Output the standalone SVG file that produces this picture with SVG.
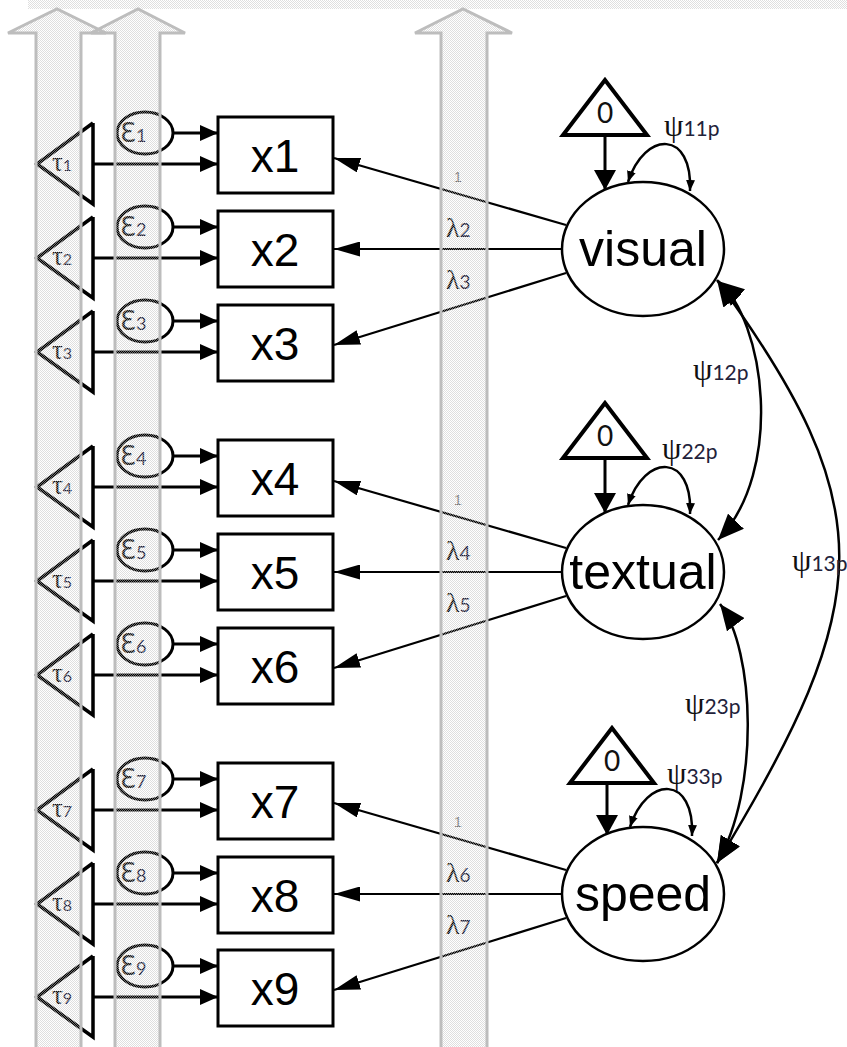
<svg xmlns="http://www.w3.org/2000/svg" width="847" height="1047" viewBox="0 0 847 1047">
  <style>
    .box { fill: #fff; stroke: #000; stroke-width: 3; }
    .lat { fill: #fff; stroke: #000; stroke-width: 2.5; }
    .err { fill: #fff; stroke: #000; stroke-width: 3; }
    .tau { fill: none; stroke: #000; stroke-width: 3.5; stroke-linejoin: miter; }
    .mean { fill: #fff; stroke: #000; stroke-width: 4; }
    .lbl { font-family: "Liberation Sans", Arial, sans-serif; font-size: 46px; fill: #000; text-anchor: middle; }
    .latlbl { font-family: "Liberation Sans", Arial, sans-serif; font-size: 50px; fill: #000; text-anchor: middle; }
    .greek { font-family: "Liberation Serif", "DejaVu Serif", serif; fill: #111; }
    .eps { font-family: "DejaVu Sans", sans-serif; font-size: 26px; fill: #1a1a1a; }
    .sub { font-family: Lato, "Liberation Sans", sans-serif; fill: #22223a; }
    .zero { font-family: Lato, "Liberation Sans", sans-serif; font-size: 28px; fill: #111; text-anchor: middle; }
    .one { font-family: "Liberation Sans", sans-serif; font-size: 14px; fill: #777; }
    .thick { stroke: #000; stroke-width: 3; fill: none; }
    .load { stroke: #000; stroke-width: 2.2; fill: none; }
    .loop { stroke: #000; stroke-width: 2.5; fill: none; }
    .cov { stroke: #000; stroke-width: 2.5; fill: none; }
    .band { fill: url(#stip); stroke: #bdbdbd; stroke-width: 3; }
  </style>
  <defs>
    <pattern id="stip" width="2" height="2" patternUnits="userSpaceOnUse">
      <rect x="0" y="0" width="1" height="1" fill="#c4c4c4" opacity="0.55"/>
      <rect x="1" y="1" width="1" height="1" fill="#c4c4c4" opacity="0.55"/>
    </pattern>
    <marker id="ah" viewBox="0 0 18 16" refX="18" refY="8" markerWidth="18" markerHeight="16" markerUnits="userSpaceOnUse" orient="auto">
      <path d="M0,0 L18,8 L0,16 z" fill="#000"/>
    </marker>
    <marker id="al" viewBox="0 0 26 15" refX="26" refY="7.5" markerWidth="26" markerHeight="15" markerUnits="userSpaceOnUse" orient="auto">
      <path d="M0,0 L26,7.5 L0,15 z" fill="#000"/>
    </marker>
    <marker id="am" viewBox="0 0 20 22" refX="20" refY="11" markerWidth="20" markerHeight="22" markerUnits="userSpaceOnUse" orient="auto">
      <path d="M0,0 L20,11 L0,22 z" fill="#000"/>
    </marker>
    <marker id="av" viewBox="0 0 11 9" refX="11" refY="4.5" markerWidth="11" markerHeight="9" markerUnits="userSpaceOnUse" orient="auto-start-reverse">
      <path d="M0,0 L11,4.5 L0,9 z" fill="#000"/>
    </marker>
    <marker id="ac" viewBox="0 0 26 22" refX="26" refY="11" markerWidth="26" markerHeight="22" markerUnits="userSpaceOnUse" orient="auto-start-reverse">
      <path d="M0,0 L26,11 L0,22 z" fill="#000"/>
    </marker>
  </defs>

  <rect width="847" height="1047" fill="#fff"/>

  <!-- connectors -->
  <g id="connectors">
    <!-- residual and intercept paths into indicators -->
    <g marker-end="url(#ah)" class="thick">
      <line x1="173" y1="133" x2="218" y2="133"/><line x1="93" y1="164" x2="218" y2="164"/>
      <line x1="173" y1="227" x2="218" y2="227"/><line x1="93" y1="258" x2="218" y2="258"/>
      <line x1="173" y1="321" x2="218" y2="321"/><line x1="93" y1="352" x2="218" y2="352"/>
      <line x1="173" y1="456" x2="218" y2="456"/><line x1="93" y1="487" x2="218" y2="487"/>
      <line x1="173" y1="550" x2="218" y2="550"/><line x1="93" y1="581" x2="218" y2="581"/>
      <line x1="173" y1="644" x2="218" y2="644"/><line x1="93" y1="675" x2="218" y2="675"/>
      <line x1="173" y1="779" x2="218" y2="779"/><line x1="93" y1="810" x2="218" y2="810"/>
      <line x1="173" y1="873" x2="218" y2="873"/><line x1="93" y1="904" x2="218" y2="904"/>
      <line x1="173" y1="966" x2="218" y2="966"/><line x1="93" y1="997" x2="218" y2="997"/>
    </g>
    <!-- factor loadings -->
    <g marker-end="url(#al)" class="load">
      <line x1="566" y1="225" x2="334" y2="158"/>
      <line x1="562" y1="249" x2="334" y2="249"/>
      <line x1="566" y1="273" x2="334" y2="345"/>
      <line x1="566" y1="548" x2="334" y2="481"/>
      <line x1="562" y1="572" x2="334" y2="572"/>
      <line x1="566" y1="596" x2="334" y2="668"/>
      <line x1="566" y1="870" x2="334" y2="803"/>
      <line x1="562" y1="894" x2="334" y2="894"/>
      <line x1="566" y1="918" x2="334" y2="990"/>
    </g>
    <!-- factor means -->
    <g marker-end="url(#am)" class="thick">
      <line x1="605" y1="135" x2="605" y2="190"/>
      <line x1="605" y1="458" x2="605" y2="513"/>
      <line x1="607" y1="783" x2="607" y2="835"/>
    </g>
    <!-- factor variances -->
    <g marker-start="url(#av)" marker-end="url(#av)" class="loop">
      <path d="M628,182 C645,130 693,130 690,191"/>
      <path d="M628,505 C645,453 693,453 690,514"/>
      <path d="M630,827 C647,775 695,775 692,836"/>
    </g>
    <!-- factor covariances -->
    <g marker-start="url(#ac)" marker-end="url(#ac)" class="cov">
      <path d="M718,281 C765,320 785,470 718,540"/>
      <path d="M720,604 C755,650 760,790 717,863"/>
      <path d="M717,280 C882,507 878,599 717,863"/>
    </g>
    <!-- path labels -->
    <g>
      <text class="one" x="454" y="182">1</text>
      <text class="greek" x="446" y="237" font-size="28">λ<tspan class="sub" font-size="19">2</tspan></text>
      <text class="greek" x="446" y="289" font-size="28">λ<tspan class="sub" font-size="19">3</tspan></text>
      <text class="one" x="454" y="505">1</text>
      <text class="greek" x="446" y="560" font-size="28">λ<tspan class="sub" font-size="19">4</tspan></text>
      <text class="greek" x="446" y="612" font-size="28">λ<tspan class="sub" font-size="19">5</tspan></text>
      <text class="one" x="454" y="827">1</text>
      <text class="greek" x="446" y="882" font-size="28">λ<tspan class="sub" font-size="19">6</tspan></text>
      <text class="greek" x="446" y="934" font-size="28">λ<tspan class="sub" font-size="19">7</tspan></text>
      <text class="greek" x="664" y="136" font-size="31">ψ<tspan class="sub" font-size="21">11p</tspan></text>
      <text class="greek" x="662" y="459" font-size="31">ψ<tspan class="sub" font-size="21">22p</tspan></text>
      <text class="greek" x="667" y="784" font-size="31">ψ<tspan class="sub" font-size="21">33p</tspan></text>
      <text class="greek" x="693" y="380" font-size="31">ψ<tspan class="sub" font-size="21">12p</tspan></text>
      <text class="greek" x="685" y="714" font-size="31">ψ<tspan class="sub" font-size="21">23p</tspan></text>
      <text class="greek" x="792" y="571" font-size="31">ψ<tspan class="sub" font-size="21">13p</tspan></text>
    </g>
  </g>

  <!-- observed indicators with residuals and intercepts -->
  <g id="x1"><rect class="box" x="218" y="117" width="115" height="76"/><text class="lbl" x="275" y="172">x1</text>
    <ellipse class="err" cx="145" cy="133" rx="28" ry="21"/><text class="eps" x="120" y="142">Ɛ<tspan class="sub" font-size="18">1</tspan></text>
    <polyline class="tau" points="93,123 37,164 93,204 93,123"/><text class="greek" x="52" y="171" font-size="27">τ<tspan class="sub" font-size="16">1</tspan></text></g>
  <g id="x2"><rect class="box" x="218" y="211" width="115" height="76"/><text class="lbl" x="275" y="266">x2</text>
    <ellipse class="err" cx="145" cy="227" rx="28" ry="21"/><text class="eps" x="120" y="236">Ɛ<tspan class="sub" font-size="18">2</tspan></text>
    <polyline class="tau" points="93,217 37,258 93,298 93,217"/><text class="greek" x="52" y="265" font-size="27">τ<tspan class="sub" font-size="16">2</tspan></text></g>
  <g id="x3"><rect class="box" x="218" y="305" width="115" height="76"/><text class="lbl" x="275" y="360">x3</text>
    <ellipse class="err" cx="145" cy="321" rx="28" ry="21"/><text class="eps" x="120" y="330">Ɛ<tspan class="sub" font-size="18">3</tspan></text>
    <polyline class="tau" points="93,311 37,352 93,392 93,311"/><text class="greek" x="52" y="359" font-size="27">τ<tspan class="sub" font-size="16">3</tspan></text></g>
  <g id="x4"><rect class="box" x="218" y="440" width="115" height="76"/><text class="lbl" x="275" y="495">x4</text>
    <ellipse class="err" cx="145" cy="456" rx="28" ry="21"/><text class="eps" x="120" y="465">Ɛ<tspan class="sub" font-size="18">4</tspan></text>
    <polyline class="tau" points="93,446 37,487 93,527 93,446"/><text class="greek" x="52" y="494" font-size="27">τ<tspan class="sub" font-size="16">4</tspan></text></g>
  <g id="x5"><rect class="box" x="218" y="534" width="115" height="76"/><text class="lbl" x="275" y="589">x5</text>
    <ellipse class="err" cx="145" cy="550" rx="28" ry="21"/><text class="eps" x="120" y="559">Ɛ<tspan class="sub" font-size="18">5</tspan></text>
    <polyline class="tau" points="93,540 37,581 93,621 93,540"/><text class="greek" x="52" y="588" font-size="27">τ<tspan class="sub" font-size="16">5</tspan></text></g>
  <g id="x6"><rect class="box" x="218" y="628" width="115" height="76"/><text class="lbl" x="275" y="683">x6</text>
    <ellipse class="err" cx="145" cy="644" rx="28" ry="21"/><text class="eps" x="120" y="653">Ɛ<tspan class="sub" font-size="18">6</tspan></text>
    <polyline class="tau" points="93,634 37,675 93,715 93,634"/><text class="greek" x="52" y="682" font-size="27">τ<tspan class="sub" font-size="16">6</tspan></text></g>
  <g id="x7"><rect class="box" x="218" y="763" width="115" height="76"/><text class="lbl" x="275" y="818">x7</text>
    <ellipse class="err" cx="145" cy="779" rx="28" ry="21"/><text class="eps" x="120" y="788">Ɛ<tspan class="sub" font-size="18">7</tspan></text>
    <polyline class="tau" points="93,769 37,810 93,850 93,769"/><text class="greek" x="52" y="817" font-size="27">τ<tspan class="sub" font-size="16">7</tspan></text></g>
  <g id="x8"><rect class="box" x="218" y="857" width="115" height="76"/><text class="lbl" x="275" y="912">x8</text>
    <ellipse class="err" cx="145" cy="873" rx="28" ry="21"/><text class="eps" x="120" y="882">Ɛ<tspan class="sub" font-size="18">8</tspan></text>
    <polyline class="tau" points="93,863 37,904 93,944 93,863"/><text class="greek" x="52" y="911" font-size="27">τ<tspan class="sub" font-size="16">8</tspan></text></g>
  <g id="x9"><rect class="box" x="218" y="950" width="115" height="76"/><text class="lbl" x="275" y="1005">x9</text>
    <ellipse class="err" cx="145" cy="966" rx="28" ry="21"/><text class="eps" x="120" y="975">Ɛ<tspan class="sub" font-size="18">9</tspan></text>
    <polyline class="tau" points="93,956 37,997 93,1037 93,956"/><text class="greek" x="52" y="1004" font-size="27">τ<tspan class="sub" font-size="16">9</tspan></text></g>

  <!-- latent factors with mean triangles -->
  <g id="visual"><ellipse class="lat" cx="643" cy="249" rx="81" ry="67"/><text class="latlbl" x="643" y="266">visual</text>
    <polygon class="mean" points="605,80 563,135 647,135"/><text class="zero" x="605" y="123">0</text></g>
  <g id="textual"><ellipse class="lat" cx="643" cy="572" rx="81" ry="67"/><text class="latlbl" x="643" y="589">textual</text>
    <polygon class="mean" points="605,403 563,458 647,458"/><text class="zero" x="605" y="446">0</text></g>
  <g id="speed"><ellipse class="lat" cx="643" cy="894" rx="81" ry="67"/><text class="latlbl" x="643" y="911">speed</text>
    <polygon class="mean" points="612,728 570,783 654,783"/><text class="zero" x="612" y="771">0</text></g>

  <!-- translucent upward block arrows laid over the drawing -->
  <g id="overlay">
    <rect x="28" y="0" width="819" height="9" fill="url(#stip)"/>
    <path class="band" d="M36,1050 V33 H8 L57,9 L106,33 H81 V1050"/>
    <path class="band" d="M115,1050 V33 H91 L138,9 L185,33 H160 V1050"/>
    <path class="band" d="M441,1050 V33 H415 L463,9 L512,33 H487 V1050"/>
  </g>
</svg>
